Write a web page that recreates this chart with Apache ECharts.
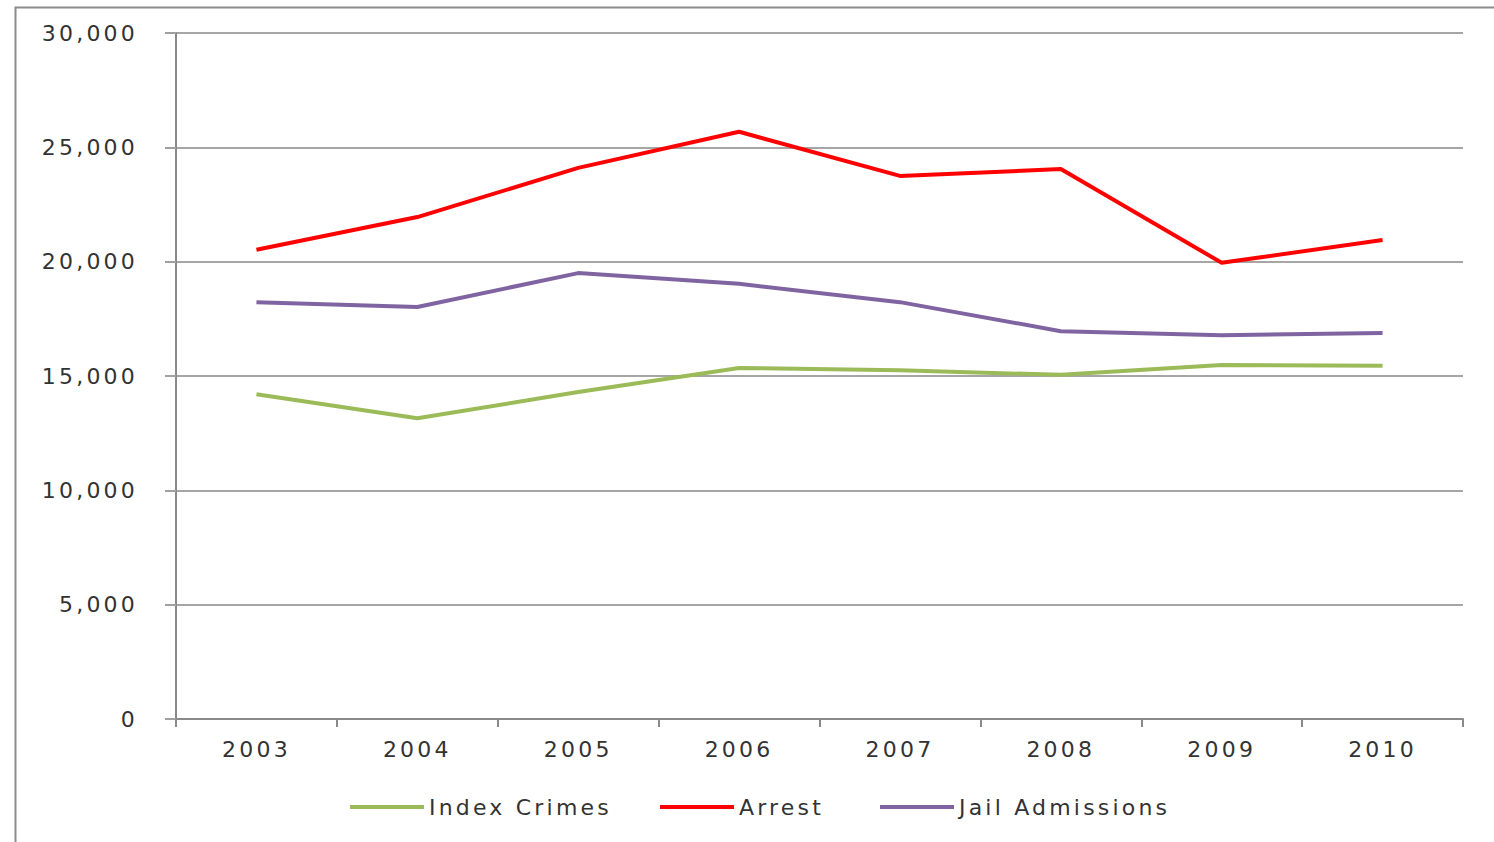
<!DOCTYPE html>
<html>
<head>
<meta charset="utf-8">
<script src="https://cdn.jsdelivr.net/npm/echarts@6/dist/echarts.min.js"></script>
<style>
html,body{margin:0;padding:0;background:#fff;}
#chart{width:1494px;height:842px;}
#chart text{letter-spacing:3.2px;}
</style>
</head>
<body>
<div id="chart"></div>
<script>
const years = ['2003','2004','2005','2006','2007','2008','2009','2010'];
const indexCrimes = [14200, 13150, 14300, 15350, 15250, 15050, 15480, 15450];
const arrest = [20520, 21950, 24100, 25680, 23750, 24050, 19950, 20950];
const jailAdmissions = [18230, 18020, 19500, 19030, 18230, 16960, 16780, 16880];
const yMin = 0, yMax = 30000, yStep = 5000;

const textColor = '#333333';
const font = 'DejaVu Sans';
const chart = echarts.init(document.getElementById('chart'), null, {renderer: 'svg'});

function legendAt(name, left) {
  return {
    data: [name], left: left, top: 796, padding: 0,
    icon: 'rect', itemWidth: 74, itemHeight: 4, itemGap: 0,
    textStyle: {fontFamily: font, fontSize: 22, color: textColor},
    selectedMode: false
  };
}

chart.setOption({
  animation: false,
  backgroundColor: '#fff',
  graphic: [{
    type: 'rect', left: 13, top: 5, silent: true,
    shape: {width: 1600, height: 1000},
    style: {fill: 'none', stroke: '#8c8c8c', lineWidth: 2}
  }],
  grid: {left: 176, right: 31, top: 33, bottom: 123, containLabel: false},
  legend: [
    legendAt('Index Crimes', 350),
    legendAt('Arrest', 660),
    legendAt('Jail Admissions', 880)
  ],
  xAxis: {
    type: 'category', data: years, boundaryGap: true,
    axisLine: {lineStyle: {color: '#8a8a8a', width: 2}},
    axisTick: {show: true, length: 8, inside: false, lineStyle: {color: '#8a8a8a', width: 2}},
    axisLabel: {fontFamily: font, fontSize: 22, color: textColor, margin: 19}
  },
  yAxis: {
    type: 'value', min: yMin, max: yMax, interval: yStep,
    axisLine: {show: true, lineStyle: {color: '#8a8a8a', width: 2}},
    axisTick: {show: true, length: 11, inside: false, lineStyle: {color: '#a0a0a0', width: 2}},
    splitLine: {lineStyle: {color: '#a6a6a6', width: 2}},
    axisLabel: {
      fontFamily: font, fontSize: 22, color: textColor, margin: 38,
      formatter: v => v.toLocaleString('en-US')
    }
  },
  series: [
    {name: 'Index Crimes', type: 'line', data: indexCrimes, symbol: 'none',
     lineStyle: {color: '#9bbb59', width: 4}, itemStyle: {color: '#9bbb59'}},
    {name: 'Arrest', type: 'line', data: arrest, symbol: 'none',
     lineStyle: {color: '#ff0000', width: 4}, itemStyle: {color: '#ff0000'}},
    {name: 'Jail Admissions', type: 'line', data: jailAdmissions, symbol: 'none',
     lineStyle: {color: '#8064a2', width: 4}, itemStyle: {color: '#8064a2'}}
  ]
});
</script>
</body>
</html>
